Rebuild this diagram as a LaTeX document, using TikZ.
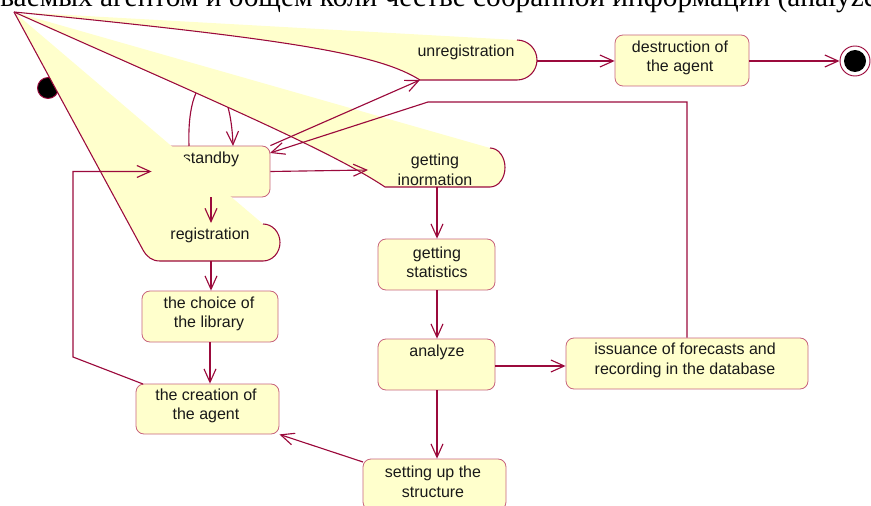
\documentclass[tikz,border=0pt]{standalone}
\usepackage{fontspec}
\setmainfont{Liberation Sans}
\newfontfamily\rusfont{Liberation Serif}
\usetikzlibrary{arrows.meta,calc}
\definecolor{rosefill}{RGB}{255,255,204}
\definecolor{roseline}{RGB}{155,10,60}
\definecolor{boxline}{RGB}{200,100,125}
\begin{document}
\begin{tikzpicture}[x=0.75pt,y=-0.75pt,
  box/.style 2 args={draw=boxline, fill=rosefill, line width=0.6pt, rounded corners=6pt,
    minimum width=#1*0.75pt, minimum height=#2*0.75pt, inner sep=0pt},
  lbl/.style={align=center, inner sep=0pt, font=\fontsize{12pt}{14.6pt}\selectfont, text=black!90},
  edge/.style={draw=roseline, line width=0.85pt, -{Straight Barb[length=10pt,width=9pt]}},
  wedge/.style={fill=rosefill},
  rim/.style={draw=roseline, line width=0.8pt},
]
\useasboundingbox (0,0) rectangle (871,506);

% caption line running off the top of the page
\node[anchor=base west, inner sep=0pt, font=\rusfont\fontsize{22pt}{26pt}\selectfont] (caption) at (0,7)
  {ваемых агентом и общем коли честве собранной информации (analyze};

% common apex of the stretched state outlines
\coordinate (apex) at (14,12);

% standby state and its self transition
\node[box={118}{51}] (standby) at (211,171.5) {};
\node[lbl] (standbyT) at (211,159) {standby};
\coordinate (loopA) at (189,146);
\coordinate (loopB) at (233,146);
\draw[edge] (loopA) .. controls (186,60) and (230,60) .. (loopB);

% initial state
\node[circle, fill=black, draw=roseline, line width=0.7pt, minimum size=21*0.75pt, inner sep=0pt] (init) at (48,88) {};

% registration outline
\fill[wedge] (apex) -- (263,224) .. controls (272.4,224) and (280,232.3) .. (280,242.5)
  .. controls (280,252.7) and (272.4,261) .. (263,261) -- (160,261)
  .. controls (152,261) and (147,257) .. (143,250) -- cycle;
\draw[rim] (apex) -- (143,250) .. controls (147,257) and (152,261) .. (160,261) -- (263,261)
  .. controls (272.4,261) and (280,252.7) .. (280,242.5) .. controls (280,232.3) and (272.4,224) .. (263,224);
\node[lbl] (regT) at (210,235) {registration};

% getting information outline
\fill[wedge] (apex) .. controls (200,95) and (330,150) .. (385,187) -- (490,187)
  .. controls (498.3,187) and (505,178.3) .. (505,167.5) .. controls (505,156.7) and (498.3,148) .. (490,148) -- cycle;
\draw[rim] (apex) .. controls (200,95) and (330,150) .. (385,187) -- (490,187)
  .. controls (498.3,187) and (505,178.3) .. (505,167.5) .. controls (505,156.7) and (498.3,148) .. (490,148);
\node[lbl] (giT) at (435,170) {getting\\inormation};

% unregistration outline
\fill[wedge] (apex) .. controls (300,40) and (380,55) .. (420,80) -- (517,80)
  .. controls (528,80) and (537,71) .. (537,60) .. controls (537,49) and (528,40) .. (517,40) -- cycle;
\draw[rim] (apex) .. controls (300,40) and (380,55) .. (420,80) -- (517,80)
  .. controls (528,80) and (537,71) .. (537,60) .. controls (537,49) and (528,40) .. (517,40);
\node[lbl] (unregT) at (466,52) {unregistration};

% remaining states
\node[box={134}{51}] (destr) at (682,60.5) {};
\node[lbl] (destrT) at (680,58) {destruction of\\the agent};
\node[circle, draw=roseline, fill=white, line width=0.7pt, minimum size=30*0.75pt, inner sep=0pt] (final) at (855,61) {};
\node[circle, fill=black, minimum size=22*0.75pt, inner sep=0pt] (finalDot) at (final) {};

\node[box={117}{51}] (stat) at (436.5,264.5) {};
\node[lbl] (statT) at (437,262.5) {getting\\statistics};
\node[box={117}{51}] (anl) at (436.5,364.5) {};
\node[lbl] (anlT) at (437,352) {analyze};
\node[box={143}{51}] (setup) at (434.5,484.5) {};
\node[lbl] (setupT) at (433,482) {setting up the\\structure};
\node[box={242}{51}] (iss) at (687,363.5) {};
\node[lbl] (issT) at (685,360.5) {issuance of forecasts and\\recording in the database};
\node[box={136}{51}] (choice) at (210,316.5) {};
\node[lbl] (choiceT) at (209,314) {the choice of\\the library};
\node[box={143}{50}] (create) at (207.5,409) {};
\node[lbl] (createT) at (206,406) {the creation of\\the agent};

% attachment points on the stretched outlines
\coordinate (unregIn) at (420,80);
\coordinate (unregOut) at (537,61);
\coordinate (giIn) at (368,170);
\coordinate (giOut) at (437,187);
\coordinate (regIn) at (211,223);
\coordinate (regOut) at (211,261);
\coordinate (sbRet) at (270,153);
\coordinate (retL) at (428,102);
\coordinate (createOut) at (143,384);
\coordinate (backBend) at (73,357);
\coordinate (setupOut) at (363,462);

% transitions
\draw[edge] (unregOut) -- (unregOut -| destr.west);
\draw[edge] (destr.east |- final) -- (final.west);
\draw[edge] (standby.north east) -- (unregIn);
\draw[edge] (iss.north) |- (retL) -- (sbRet);
\draw[edge] (standby.east) -- (giIn);
\draw[edge] (giOut) -- (giOut |- stat.north);
\draw[edge] (giOut |- stat.south) -- (giOut |- anl.north);
\draw[edge] (giOut |- anl.south) -- (giOut |- setup.north);
\draw[edge] (anl.east |- 0,366) -- (iss.west |- 0,366);
\draw[edge] (setupOut) -- (create.south east);
\draw[edge] (createOut) -- (backBend) |- (standby.west);
\draw[edge] (standby.south) -- (regIn);
\draw[edge] (regOut) -- (regOut |- choice.north);
\draw[edge] (choice.south) -- (choice.south |- create.north);
\end{tikzpicture}
\end{document}
